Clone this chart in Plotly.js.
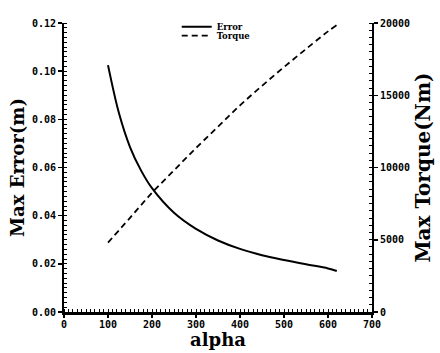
<!DOCTYPE html>
<html><head><meta charset="utf-8">
<script src="https://cdn.plot.ly/plotly-3.0.1.min.js"></script>
<style>html,body{margin:0;padding:0;background:#fff}#chart{width:440px;height:353px}</style>
</head><body><div id="chart"></div>
<script>
const alphaErr = [100,125,150,175,200,250,300,350,400,450,500,550,600,620];
const errorVals = [0.1025,0.0825,0.0685,0.0588,0.0514,0.0412,0.0345,0.0297,0.0262,0.0236,0.0216,0.0198,0.0181,0.0170];
const alphaTorque = [100,150,200,250,300,350,400,450,500,550,600,620];
const torqueVals = [4800,6520,8250,9800,11350,12820,14300,15650,16950,18200,19420,19850];
const xTicks = [0,100,200,300,400,500,600,700];

const serif = "DejaVu Serif";
const tickFont = {family:"DejaVu Sans Mono", size:10, color:"#000", weight:"bold"};

const traces = [
  {x:alphaErr, y:errorVals, name:"Error", type:"scatter", mode:"lines", legend:"legend",
   line:{color:"#000", width:2, shape:"spline", smoothing:1}},
  {x:alphaTorque, y:torqueVals, name:"Torque", type:"scatter", mode:"lines", yaxis:"y2", legend:"legend2",
   line:{color:"#000", width:1.8, dash:"6px,4px", shape:"spline", smoothing:1}}
];

const legFont = {family:serif, size:8.5, color:"#000", weight:"bold"};
const layout = {
  width:440, height:353,
  margin:{l:64, r:68, t:13, b:41, pad:0},
  paper_bgcolor:"#fff", plot_bgcolor:"#fff",
  showlegend:true,
  legend:{x:0.366, y:0.9866, xanchor:"left", yanchor:"middle", bgcolor:"rgba(0,0,0,0)", font:legFont},
  legend2:{x:0.366, y:0.9565, xanchor:"left", yanchor:"middle", bgcolor:"rgba(0,0,0,0)", font:legFont},
  xaxis:{range:[0,700], tickvals:xTicks, ticktext:xTicks.map(String),
    showgrid:false, zeroline:false, showline:true, linecolor:"#000", linewidth:2.5,
    ticks:"outside", ticklen:3, tickwidth:1.5, tickcolor:"#000", ticklabelstandoff:-2,
    minor:{dtick:10, ticks:"inside", ticklen:3, tickwidth:1, tickcolor:"#000", showgrid:false},
    tickfont:tickFont,
    title:{text:"alpha", font:{family:serif, size:18, color:"#000", weight:"bold"}, standoff:3}},
  yaxis:{range:[0,0.12], dtick:0.02, tickformat:".2f",
    showgrid:false, zeroline:false, showline:true, linecolor:"#000", linewidth:2,
    ticks:"outside", ticklen:4, tickwidth:1.5, tickcolor:"#000",
    minor:{dtick:0.002, ticks:"inside", ticklen:3, tickwidth:1, tickcolor:"#000", showgrid:false},
    tickfont:tickFont,
    title:{text:"Max Error(m)", font:{family:serif, size:18, color:"#000", weight:"bold"}, standoff:3}},
  yaxis2:{range:[0,20000], dtick:5000, tickformat:"d", overlaying:"y", side:"right",
    showgrid:false, zeroline:false, showline:true, linecolor:"#000", linewidth:2,
    ticks:"outside", ticklen:4, tickwidth:1.5, tickcolor:"#000",
    minor:{dtick:500, ticks:"inside", ticklen:3, tickwidth:1, tickcolor:"#000", showgrid:false},
    tickfont:tickFont,
    title:{text:"Max Torque(Nm)", font:{family:serif, size:20, color:"#000", weight:"bold"}, standoff:7}}
};

Plotly.newPlot("chart", traces, layout, {displayModeBar:false, staticPlot:true});
</script></body></html>
